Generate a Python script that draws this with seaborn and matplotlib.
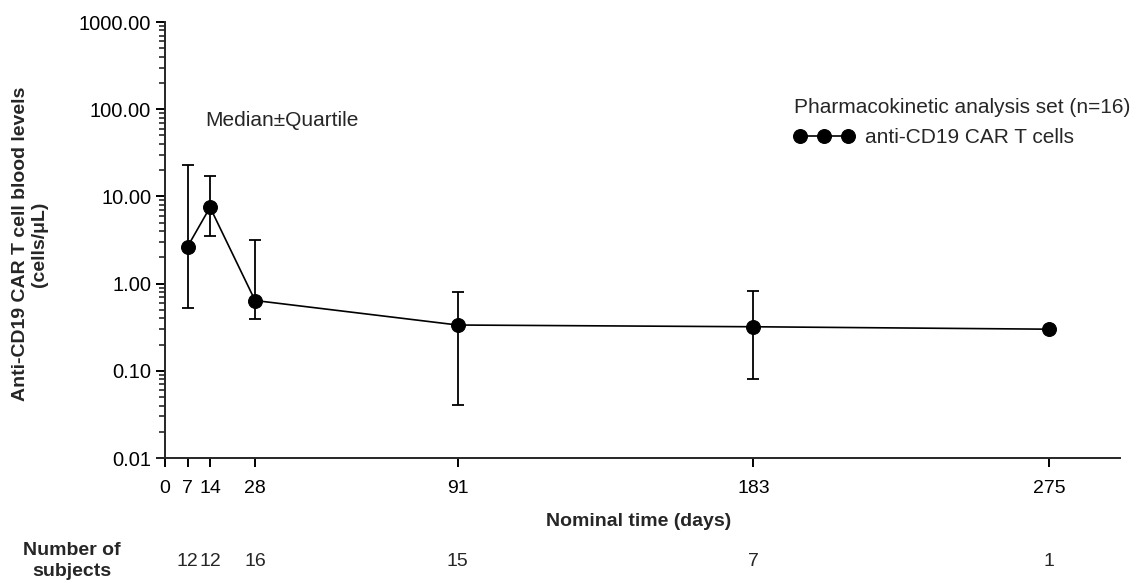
"""
CAR T cell pharmacokinetics plot
Median +/- quartile of anti-CD19 CAR T cell blood levels over time
"""

import numpy as np
import pandas as pd
import matplotlib
matplotlib.use('Agg')  # Non-interactive backend
import matplotlib.pyplot as plt
from matplotlib.ticker import FixedLocator, FixedFormatter, LogLocator, NullFormatter
import seaborn as sns

# Data
days = [7, 14, 28, 91, 183, 275]
median_levels = [2.65, 7.5, 0.64, 0.335, 0.32, 0.30]
q1_levels = [0.53, 3.5, 0.39, 0.041, 0.08, np.nan]
q3_levels = [22.8, 17.0, 3.15, 0.80, 0.83, np.nan]
n_subjects = [12, 12, 16, 15, 7, 1]

x_ticks = [0, 7, 14, 28, 91, 183, 275]
y_ticks = [0.01, 0.1, 1, 10, 100, 1000]
y_tick_labels = ['0.01', '0.10', '1.00', '10.00', '100.00', '1000.00']

series_label = 'anti-CD19 CAR T cells'
legend_title = 'Pharmacokinetic analysis set (n=16)'

W, H = 1135, 585
FS = 14


def main():
    sns.set_style('ticks')
    plt.rcParams['font.family'] = ['Liberation Sans', 'DejaVu Sans']

    df = pd.DataFrame({'day': days, 'median': median_levels,
                       'q1': q1_levels, 'q3': q3_levels})

    fig = plt.figure(figsize=(W / 100, H / 100), dpi=100)
    ax = fig.add_axes([157 / W, 1 - 458 / H, (1120 - 157) / W, (458 - 22) / H])

    # Quartile whiskers
    err = df.dropna(subset=['q1', 'q3'])
    ax.errorbar(err['day'], err['median'],
                yerr=[err['median'] - err['q1'], err['q3'] - err['median']],
                fmt='none', ecolor='black', elinewidth=1.3,
                capsize=4, capthick=1.3, zorder=2)

    # Median line
    sns.lineplot(data=df, x='day', y='median', color='black', marker='o',
                 markersize=10, markeredgecolor='black', linewidth=1.2,
                 label=series_label, ax=ax, zorder=3)

    ax.set_yscale('log')
    ax.set_ylim(0.01, 1000)
    ax.set_xlim(-2.5, 297)

    ax.yaxis.set_major_locator(FixedLocator(y_ticks))
    ax.yaxis.set_major_formatter(FixedFormatter(y_tick_labels))
    ax.yaxis.set_minor_locator(LogLocator(base=10, subs=np.arange(2, 10)))
    ax.yaxis.set_minor_formatter(NullFormatter())
    ax.set_xticks(x_ticks)
    ax.set_xticklabels([str(t) for t in x_ticks])

    ax.spines['left'].set_position(('data', 0))
    ax.spines['top'].set_visible(False)
    ax.spines['right'].set_visible(False)
    for s in ['left', 'bottom']:
        ax.spines[s].set_linewidth(1.4)
    ax.tick_params(axis='both', which='major', direction='out', length=6.5,
                   width=1.4, labelsize=FS, colors='black')
    ax.tick_params(axis='x', which='major', pad=9)
    ax.tick_params(axis='y', which='major', labelsize=FS + 0.5)
    ax.tick_params(axis='y', which='minor', direction='out', length=4, width=1.2)

    ax.set_xlabel('')
    ax.set_ylabel('')

    # Axis titles
    fig.text(30 / W, 1 - 244 / H, 'Anti-CD19 CAR T cell blood levels\n(cells/\u03bcL)',
             rotation=90, ha='center', va='center', multialignment='center',
             fontsize=FS, fontweight='bold')
    fig.text(0.5 * (157 + 1120) / W, 1 - 522 / H, 'Nominal time (days)',
             ha='center', va='center', fontsize=FS, fontweight='bold')

    # Number of subjects row
    fig.text(72 / W, 1 - 561 / H, 'Number of\nsubjects', ha='center', va='center',
             multialignment='center', fontsize=FS, fontweight='bold',
             linespacing=1.25)
    for d, n in zip(days, n_subjects):
        x_fig = fig.transFigure.inverted().transform(ax.transData.transform((d, 1)))[0]
        fig.text(x_fig, 1 - 561 / H, str(n), ha='center', va='center', fontsize=FS)

    fig.text(205 / W, 1 - 121 / H, 'Median\u00b1Quartile', ha='left', va='center',
             fontsize=FS + 1)

    ax.legend(loc='upper left', bbox_to_anchor=(794 / W, 1 - 98 / H),
              bbox_transform=fig.transFigure, title=legend_title,
              alignment='left', frameon=False, borderpad=0, borderaxespad=0,
              numpoints=3, handlelength=2.9, handletextpad=0.5, labelspacing=0.55,
              fontsize=FS + 1, title_fontsize=FS + 1)

    fig.savefig('out.png', dpi=100)
    plt.close(fig)


if __name__ == '__main__':
    main()
